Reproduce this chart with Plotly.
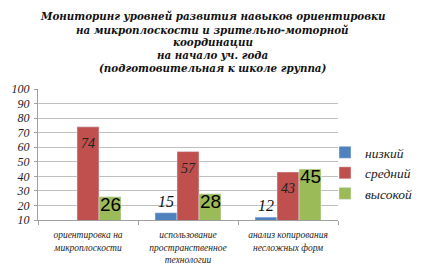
import plotly.graph_objects as go

categories = ["ориентировка на<br>микроплоскости",
              "использование<br>пространственное<br>технологии",
              "анализ копирования<br>несложных форм"]
low = [None, 15, 12]
mid = [74, 57, 43]
high = [26, 28, 45]
series_names = ["низкий", "средний", "высокой"]
colors = ["#4F81BD", "#C0504D", "#9BBB59"]
title_lines = ["Мониторинг уровней развития навыков ориентировки",
               "на микроплоскости и зрительно-моторной",
               "координации",
               "на начало уч. года",
               "(подготовительная к школе группа)"]

serif = "Liberation Serif"
W, H = 427, 275
ML, MR, MT, MB = 38, 89, 89, 55
plot_w = W - ML - MR
plot_h = H - MT - MB
bargap = 0.34
bar_px = plot_w / 3 * (1 - bargap) / 3  # width of one bar in pixels

fig = go.Figure()
fig.add_bar(x=categories, y=low, name=series_names[0], marker_color=colors[0],
            text=["" if v is None else str(v) for v in low], textposition="outside",
            textangle=0,
            textfont=dict(family=serif, size=16, color="#111", style="italic"),
            cliponaxis=False)
fig.add_bar(x=categories, y=mid, name=series_names[1], marker_color=colors[1])
fig.add_bar(x=categories, y=high, name=series_names[2], marker_color=colors[2])
for c, v in zip(categories, mid):
    fig.add_annotation(x=c, y=v, text=str(v), showarrow=False, yanchor="top", yshift=-7,
                       font=dict(family=serif, size=14, color="#222", style="italic"))
for c, v in zip(categories, high):
    fig.add_annotation(x=c, y=v, text=str(v), showarrow=False, yanchor="top", yshift=5,
                       xshift=bar_px,
                       font=dict(family="Liberation Sans", size=19, color="#000"))

# title lines, 13 px apart, centred over the chart
title_centers_px = [16, 29.5, 42.5, 55.5, 68]
for line, ypx in zip(title_lines, title_centers_px):
    fig.add_annotation(xref="paper", yref="paper", x=(212.5 - ML) / plot_w,
                       y=(H - MB - ypx) / plot_h, text=line, showarrow=False,
                       xanchor="center", yanchor="middle",
                       font=dict(family="DejaVu Serif", size=10.3, color="#111",
                                 weight="bold", style="italic"))

fig.update_layout(
    width=W, height=H,
    margin=dict(l=ML, r=MR, t=MT, b=MB, autoexpand=False),
    paper_bgcolor="white", plot_bgcolor="white",
    barmode="group", bargap=bargap, bargroupgap=0,
    legend=dict(x=(325 - ML) / plot_w, y=(H - MB - 173) / plot_h, yanchor="middle",
                xanchor="left", bgcolor="rgba(0,0,0,0)",
                font=dict(family=serif, size=13.5, color="#222", style="italic"),
                itemwidth=30, traceorder="normal"),
    showlegend=True,
)
fig.update_yaxes(range=[10, 100], dtick=10, showgrid=True, gridcolor="#BFBFBF",
                 showline=True, linecolor="#A0A0A0", ticks="outside", ticklen=3,
                 tickcolor="#A0A0A0", automargin=False, ticklabelstandoff=2,
                 tickfont=dict(family=serif, size=12, color="#222", style="italic"))
fig.update_xaxes(showline=True, linecolor="#A0A0A0", ticks="outside", tickson="boundaries",
                 tickcolor="#A0A0A0", ticklen=4, tickangle=0, automargin=False,
                 ticklabelstandoff=6,
                 tickfont=dict(family=serif, size=9.5, color="#222", style="italic"))
fig.write_html("out.html", config={"displayModeBar": False},
               post_script="document.body.style.margin='0px';")
